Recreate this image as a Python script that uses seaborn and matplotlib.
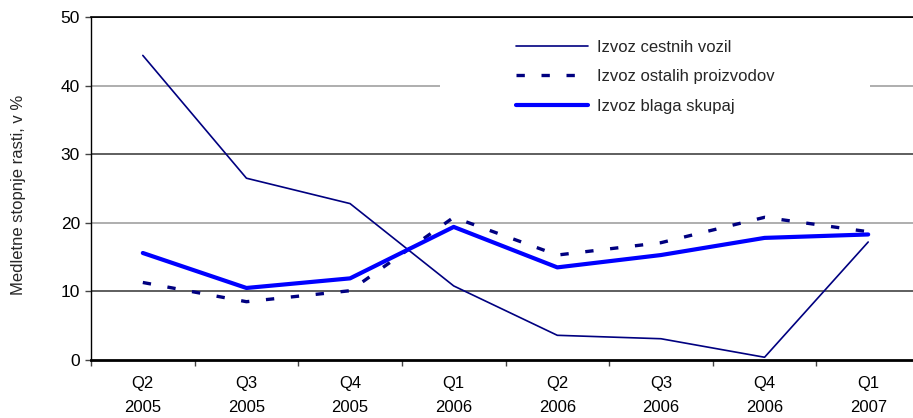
import matplotlib
matplotlib.use("Agg")
import matplotlib.pyplot as plt
from matplotlib.patches import Rectangle
import pandas as pd
import seaborn as sns

# Quarterly year-on-year growth rates, in %
quarters = ["Q2\n2005", "Q3\n2005", "Q4\n2005", "Q1\n2006",
            "Q2\n2006", "Q3\n2006", "Q4\n2006", "Q1\n2007"]
vehicles = [44.4, 26.5, 22.8, 10.8, 3.6, 3.1, 0.4, 17.2]
other_products = [11.3, 8.5, 10.1, 20.8, 15.3, 17.1, 20.8, 18.7]
total_goods = [15.6, 10.5, 11.9, 19.4, 13.5, 15.3, 17.8, 18.3]

series_names = ["Izvoz cestnih vozil", "Izvoz ostalih proizvodov", "Izvoz blaga skupaj"]
ylabel = "Medletne stopnje rasti, v %"

df = pd.DataFrame({
    "quarter": quarters * 3,
    "value": vehicles + other_products + total_goods,
    "series": [series_names[0]] * 8 + [series_names[1]] * 8 + [series_names[2]] * 8,
})
df["pos"] = list(range(8)) * 3

sns.set_theme(style="white")
plt.rcParams["font.family"] = ["Liberation Sans", "DejaVu Sans"]

fig = plt.figure(figsize=(9.13, 4.18), dpi=100)
ax = fig.add_axes([91 / 913, 1 - 360 / 418, 829 / 913, 343 / 418])

styles = {
    series_names[0]: dict(color="#000080", lw=1.2),
    series_names[1]: dict(color="#000080", lw=2.4, dashes=(2.5, 5.0)),
    series_names[2]: dict(color="#0000FF", lw=3.0),
}
for name in series_names:
    st = styles[name]
    sub = df[df["series"] == name]
    kw = dict(color=st["color"], linewidth=st["lw"], label=name, sort=False,
              zorder=3, legend=False)
    line_ax = sns.lineplot(data=sub, x="pos", y="value", ax=ax, **kw)
    if "dashes" in st:
        line_ax.lines[-1].set_dashes(st["dashes"])
        line_ax.lines[-1].set_dash_capstyle("butt")

ax.set_xlim(-0.5, 7.5)
ax.set_ylim(0, 50)
ax.set_yticks(range(0, 51, 10))
ax.set_xticks(range(8))
ax.set_xticklabels(quarters, linespacing=1.75)
ax.set_xticks([i - 0.5 for i in range(9)], minor=True)
ax.set_xlabel("")
ax.set_ylabel(ylabel, fontsize=12)
ax.yaxis.set_label_coords(-0.079, 0.48)

ax.tick_params(axis="x", which="major", length=0, pad=11.5, labelsize=12, colors="black")
ax.tick_params(axis="x", which="minor", length=4, width=1, color="#444444", bottom=True)
ax.tick_params(axis="y", length=4, width=1, color="#444444", left=True, labelsize=12.5,
               pad=4, colors="black")
for lab in ax.get_yticklabels():
    lab.set_color("black")

# horizontal gridlines, alternating dark and grey
ax.set_axisbelow(True)
ax.yaxis.grid(True, linewidth=1.1)
grid_colors = {10: "#333333", 20: "#999999", 30: "#333333", 40: "#999999", 50: "#000000"}
for gl, val in zip(ax.get_ygridlines(), range(0, 51, 10)):
    gl.set_color(grid_colors.get(val, "#000000"))
    if val == 0:
        gl.set_visible(False)
ax.xaxis.grid(False)

ax.spines["right"].set_visible(False)
ax.spines["top"].set_color("black")
ax.spines["top"].set_linewidth(1.2)
ax.spines["left"].set_color("black")
ax.spines["left"].set_linewidth(1.0)
ax.spines["bottom"].set_color("black")
ax.spines["bottom"].set_linewidth(2.0)

# white backdrop behind the legend
ax.add_patch(Rectangle((0.421, 0.69), 0.519, 0.27, transform=ax.transAxes,
                       facecolor="white", edgecolor="none", zorder=1))

leg = ax.legend(loc="upper left", bbox_to_anchor=(0.513, 0.933), frameon=False,
                fontsize=12, handlelength=4.3, handletextpad=0.55,
                labelspacing=0.86, borderpad=0, borderaxespad=0)
for h in leg.get_lines():
    h.set_dash_capstyle("butt")

fig.savefig("out.png", dpi=100)
